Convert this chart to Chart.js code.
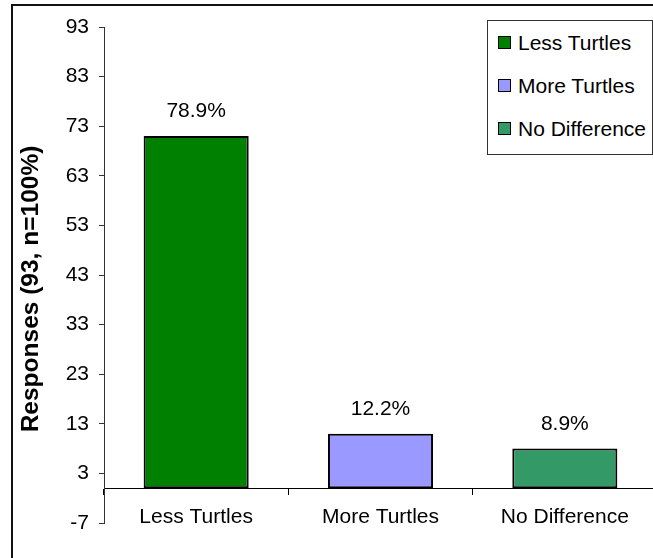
<!DOCTYPE html>
<html>
<head>
<meta charset="utf-8">
<script src="https://cdn.jsdelivr.net/npm/chart.js@4.4.1/dist/chart.umd.min.js"></script>
<style>
  html, body { margin: 0; padding: 0; background: #fff; }
  body { width: 653px; height: 558px; overflow: hidden; position: relative; font-family: "Liberation Sans", Arial, sans-serif; }
  #frame { position: absolute; left: 11px; top: 4px; width: 700px; height: 600px; border: 2px solid #111; box-sizing: border-box; }
  #chartWrapper { position: absolute; left: 0; top: 0; width: 670px; height: 558px; }
  #legend { position: absolute; left: 487px; top: 20px; width: 166px; height: 135px; border: 1px solid #333; box-sizing: border-box; background: #fff; }
  .item { height: 43px; display: flex; align-items: center; font-size: 21px; color: #000; white-space: nowrap; }
  .swatch { width: 11px; height: 11px; border: 1.5px solid #000; margin-left: 10px; margin-right: 7px; flex: none; }
</style>
</head>
<body>
<div id="frame"></div>
<div id="chartWrapper"><canvas id="turtleChart"></canvas></div>
<div id="legend"></div>
<script>
const categories = ['Less Turtles', 'More Turtles', 'No Difference'];
const responses = [71, 11, 8];
const barColors = ['#008000', '#9999FF', '#339966'];
const yTicks = [-7, 3, 13, 23, 33, 43, 53, 63, 73, 83, 93];
const yTitle = 'Responses (93, n=100%)';

const total = responses.reduce((a, b) => a + b, 0);
const percentLabels = responses.map(v => (v / total * 100).toFixed(1) + '%');

const FONT = '"Liberation Sans", Arial, sans-serif';

// percentage text above each bar, plus the rotated axis title
// (drawn by hand so it can sit a little below the plot middle)
const extraText = {
    id: 'extraText',
    afterDatasetsDraw(chart) {
        const ctx = chart.ctx;
        const meta = chart.getDatasetMeta(0);
        ctx.save();
        ctx.font = '21px ' + FONT;
        ctx.fillStyle = '#000';
        ctx.textAlign = 'center';
        ctx.textBaseline = 'alphabetic';
        meta.data.forEach((bar, i) => {
            ctx.fillText(percentLabels[i], bar.x, bar.y - 19);
        });

        const area = chart.chartArea;
        ctx.translate(31, (area.top + area.bottom) / 2 + 14);
        ctx.rotate(-Math.PI / 2);
        ctx.font = 'bold 24.5px ' + FONT;
        ctx.textBaseline = 'middle';
        ctx.fillText(yTitle, 0, 0);
        ctx.restore();
    }
};

const ctx = document.getElementById('turtleChart').getContext('2d');
const chart = new Chart(ctx, {
    type: 'bar',
    data: {
        labels: categories,
        datasets: [{
            data: responses,
            backgroundColor: barColors,
            borderColor: '#000',
            borderWidth: 2,
            borderSkipped: false,
            barPercentage: 0.57,
            categoryPercentage: 1
        }]
    },
    options: {
        responsive: true,
        maintainAspectRatio: false,
        animation: false,
        layout: { padding: { left: 12, top: 27, right: 13, bottom: 35 } },
        plugins: {
            legend: { display: false },
            tooltip: { enabled: false }
        },
        scales: {
            x: {
                position: { y: 0 },
                offset: true,
                grid: {
                    offset: true,
                    drawOnChartArea: false,
                    tickLength: 6,
                    color: '#000'
                },
                border: { color: '#000', width: 1 },
                ticks: {
                    color: '#000',
                    padding: 10,
                    maxRotation: 0,
                    font: { family: FONT, size: 21 }
                }
            },
            y: {
                min: -7,
                max: 93,
                afterBuildTicks: scale => {
                    scale.ticks = yTicks.map(v => ({ value: v }));
                },
                afterFit: scale => { scale.width = 92; },
                grid: {
                    drawOnChartArea: false,
                    tickLength: 5,
                    color: '#333'
                },
                border: { color: '#333', width: 1 },
                ticks: {
                    color: '#000',
                    padding: 10,
                    font: { family: FONT, size: 21 }
                }
            }
        }
    },
    plugins: [extraText]
});

// legend box, one row per category
const legendEl = document.getElementById('legend');
categories.forEach((name, i) => {
    const row = document.createElement('div');
    row.className = 'item';
    const sw = document.createElement('span');
    sw.className = 'swatch';
    sw.style.background = barColors[i];
    row.appendChild(sw);
    row.appendChild(document.createTextNode(name));
    legendEl.appendChild(row);
});
</script>
</body>
</html>
